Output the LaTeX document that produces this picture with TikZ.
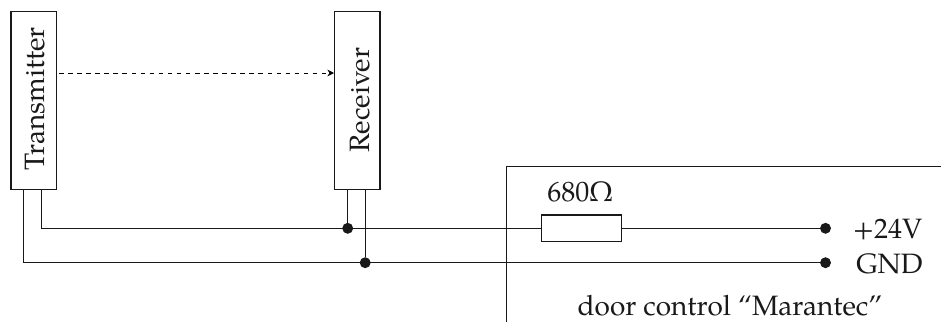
\documentclass[tikz,border=0pt]{standalone}
\usepackage{fontspec}
\setmainfont{TeX Gyre Pagella}
\usetikzlibrary{arrows.meta}
\tikzset{
  x=0.75pt,y=-0.75pt,
  wire/.style={line width=0.95pt,black!90},
  box/.style={draw=black!90,line width=0.95pt,fill=white,inner sep=0pt},
  lbl/.style={font=\fontsize{21}{24}\selectfont,inner sep=0pt,text=black!90},
  dot/.style={circle,fill=black!90,inner sep=0pt,minimum size=8.2pt}
}
\begin{document}
\begin{tikzpicture}
\useasboundingbox (0,0) rectangle (941,322);
\node[box,minimum width=34pt,minimum height=133pt] (tx) at (33.7,100.5) {};
\node[box,minimum width=34pt,minimum height=133pt] (rx) at (357.3,100.5) {};
\node[lbl,rotate=90,anchor=base west] (txl) at (44,171) {Transmitter};
\node[lbl,rotate=90,anchor=base west] (rxl) at (369,152.5) {Receiver};
\coordinate (a1) at (59,73);
\coordinate (a2) at (334,73);
\draw[line width=0.7pt,dash pattern=on 3.4pt off 3.4pt,-{Stealth[length=5pt,width=5pt]}] (a1) -- (a2);
\node[dot] (p1) at (347.7,228.3) {};
\node[dot] (g1) at (365.2,262.7) {};
\node[dot] (p2) at (825.5,228.3) {};
\node[dot] (g2) at (825.5,262.7) {};
\node[box,minimum width=60pt,minimum height=20pt] (r) at (581.3,228.3) {};
\node[lbl,anchor=base west] (vp) at (852.5,238.3) {+24V};
\node[lbl,anchor=base west] (vg) at (856,273) {GND};
\node[lbl,anchor=base] (rl) at (580,201) {680Ω};
\node[lbl,anchor=base] (door) at (730,315.7) {door control “Marantec”};
\coordinate (t1) at (41.3,189);
\coordinate (t2) at (23.7,189);
\coordinate (r1) at (347.7,189);
\coordinate (r2) at (365.2,189);
\coordinate (pa) at (941,166.3);
\coordinate (pb) at (506.7,166.3);
\coordinate (pc) at (506.7,322);
\draw[wire] (t1) |- (r.west);
\draw[wire] (r.east) -- (p2);
\draw[wire] (t2) |- (g2);
\draw[wire] (r1) -- (p1);
\draw[wire] (r2) -- (g1);
\draw[wire] (pa) -- (pb) -- (pc);
\end{tikzpicture}
\end{document}
